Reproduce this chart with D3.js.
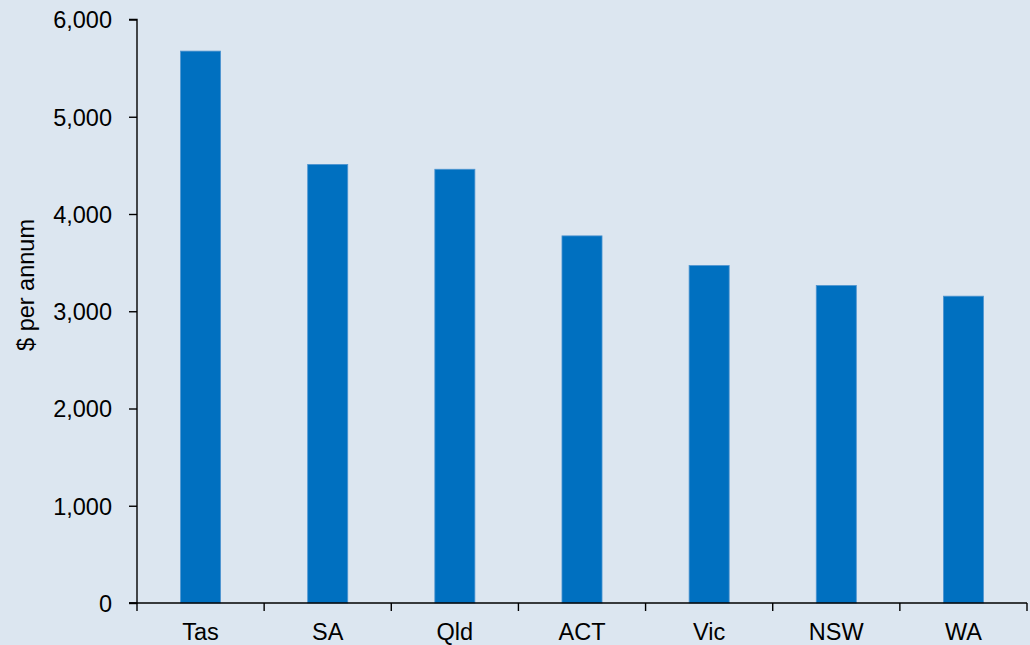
<!DOCTYPE html>
<html><head><meta charset="utf-8">
<script src="https://cdn.jsdelivr.net/npm/d3@7"></script>
<style>
html,body{margin:0;padding:0;background:#dce6f0;}
svg{display:block;}
</style></head>
<body>
<svg id="chart" width="1030" height="645"></svg>
<script>
const categories = ["Tas","SA","Qld","ACT","Vic","NSW","WA"];
const values = [5675, 4510, 4460, 3775, 3470, 3265, 3155];
const yTicks = [0,1000,2000,3000,4000,5000,6000];
const yLabel = "$ per annum";

(function(){
const svg = d3.select("#chart");
const W = 1030, H = 645;
svg.append("rect").attr("width",W).attr("height",H).attr("fill","#dce6f0");

const pLeft = 137, pRight = 1027, pTop = 19.5, pBottom = 603;
const font = "'Liberation Sans', Arial, Helvetica, sans-serif";
const fs = 23.5;

const x = d3.scaleBand().domain(categories).range([pLeft,pRight])
  .paddingInner(0.685).paddingOuter(0.3425);
const y = d3.scaleLinear().domain([0,6000]).range([pBottom,pTop]);

// bars
svg.append("g").selectAll("rect").data(values).join("rect")
  .attr("x",(d,i)=>x(categories[i]))
  .attr("y",d=>y(d))
  .attr("width",x.bandwidth())
  .attr("height",d=>pBottom - y(d))
  .attr("fill","#0070c0")
  .attr("stroke","#4f95d0")
  .attr("stroke-width",0.8);

// y axis
const yAxis = svg.append("g").attr("transform",`translate(${pLeft},0)`)
  .call(d3.axisLeft(y).tickValues(yTicks).tickFormat(d3.format(",")).tickSize(8).tickPadding(17));
yAxis.select(".domain").attr("stroke","#000").attr("stroke-width",1.4).attr("d",`M-8,${pTop}H0V${pBottom}H-8`);
yAxis.selectAll(".tick line").attr("stroke","#000").attr("stroke-width",1.4);
yAxis.selectAll("text").attr("font-family",font).attr("font-size",fs).attr("fill","#000").attr("dy","0.36em");

// x axis line + boundary ticks
const xg = svg.append("g");
xg.append("line").attr("x1",pLeft-8).attr("x2",pRight).attr("y1",pBottom).attr("y2",pBottom)
  .attr("stroke","#000").attr("stroke-width",1.4);
const bounds = d3.range(categories.length+1).map(i=>x.range()[0] + i*x.step());
xg.selectAll("line.tk").data(bounds).join("line").attr("class","tk")
  .attr("x1",d=>d).attr("x2",d=>d).attr("y1",pBottom).attr("y2",pBottom+8)
  .attr("stroke","#000").attr("stroke-width",1.4);
xg.selectAll("text").data(categories).join("text")
  .attr("x",d=>x(d)+x.bandwidth()/2)
  .attr("y",640)
  .attr("text-anchor","middle")
  .attr("font-family",font).attr("font-size",fs).attr("fill","#000")
  .text(d=>d);

// y label
svg.append("text")
  .attr("transform",`translate(34,285) rotate(-90)`)
  .attr("text-anchor","middle")
  .attr("font-family",font).attr("font-size",fs).attr("fill","#000")
  .text(yLabel);
})();
</script>
</body></html>
